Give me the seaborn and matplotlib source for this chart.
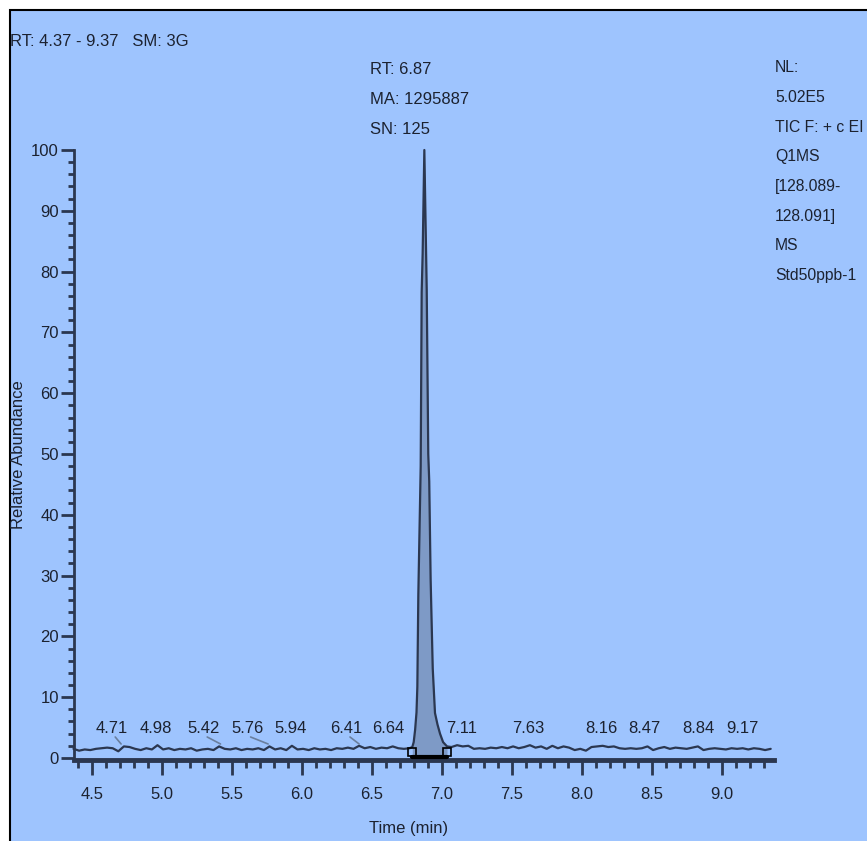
import numpy as np
import matplotlib
matplotlib.use("Agg")
import matplotlib.pyplot as plt
import seaborn as sns
from matplotlib import font_manager
from matplotlib.patches import Rectangle
from matplotlib.ticker import MultipleLocator

# ---------------- data ----------------
left_times = [4.37, 4.41, 4.45, 4.49, 4.53, 4.57, 4.61, 4.65, 4.69, 4.73, 4.77, 4.81, 4.85, 4.89,
              4.93, 4.97, 5.01, 5.05, 5.09, 5.13, 5.17, 5.21, 5.25, 5.29, 5.33, 5.37, 5.41, 5.45,
              5.49, 5.53, 5.57, 5.61, 5.65, 5.69, 5.73, 5.77, 5.81, 5.85, 5.89, 5.93, 5.97, 6.01,
              6.05, 6.09, 6.13, 6.17, 6.21, 6.25, 6.29, 6.33, 6.37, 6.41, 6.45, 6.49, 6.53, 6.57,
              6.61, 6.65, 6.69, 6.73, 6.77]
left_vals = [1.5, 1.2, 1.4, 1.3, 1.5, 1.6, 1.7, 1.6, 1.1, 1.9, 1.8, 1.5, 1.3, 1.6,
             1.4, 2.1, 1.4, 1.6, 1.3, 1.5, 1.4, 1.6, 1.2, 1.4, 1.5, 1.3, 1.9, 1.5,
             1.4, 1.6, 1.3, 1.5, 1.4, 1.6, 1.3, 1.9, 1.4, 1.6, 1.3, 2.0, 1.4, 1.5,
             1.3, 1.6, 1.4, 1.5, 1.3, 1.6, 1.5, 1.7, 1.5, 2.0, 1.6, 1.8, 1.5, 1.7,
             1.6, 1.9, 1.6, 1.5, 1.6]
peak_times = [6.790, 6.800, 6.810, 6.820, 6.826, 6.833, 6.850, 6.857, 6.864, 6.876,
              6.893, 6.904, 6.911, 6.921, 6.936, 6.952, 6.970, 6.988, 7.010, 7.038]
peak_vals = [1.8, 2.6, 4.6, 7.5, 11.7, 26.8, 48.0, 76.6, 83.0, 100.0,
             77.0, 50.0, 45.5, 29.3, 14.7, 7.4, 5.5, 4.0, 2.6, 1.9]
right_times = [7.07, 7.11, 7.15, 7.19, 7.23, 7.27, 7.31, 7.35, 7.39, 7.43, 7.47, 7.51, 7.55,
               7.59, 7.63, 7.67, 7.71, 7.75, 7.79, 7.83, 7.87, 7.91, 7.95, 7.99, 8.03, 8.07,
               8.11, 8.15, 8.19, 8.23, 8.27, 8.31, 8.35, 8.39, 8.43, 8.47, 8.51, 8.55, 8.59,
               8.63, 8.67, 8.71, 8.75, 8.79, 8.83, 8.87, 8.91, 8.95, 8.99, 9.03, 9.07, 9.11,
               9.15, 9.19, 9.23, 9.27, 9.31, 9.35]
right_vals = [1.8, 2.1, 1.9, 2.0, 1.5, 1.6, 1.5, 1.7, 1.6, 1.8, 1.6, 1.9, 1.6,
              1.8, 2.1, 1.7, 1.9, 1.5, 2.0, 1.6, 1.9, 1.7, 1.3, 1.5, 1.2, 1.8,
              1.9, 2.0, 1.8, 1.9, 1.6, 1.5, 1.6, 1.5, 1.6, 1.9, 1.3, 1.6, 1.8,
              1.5, 1.7, 1.6, 1.5, 1.7, 1.9, 1.3, 1.5, 1.6, 1.5, 1.4, 1.6, 1.5,
              1.6, 1.4, 1.6, 1.5, 1.3, 1.5]

peak_rt = 6.876
peak_start, peak_end = 6.790, 7.038
minor_peaks = ["4.71", "4.98", "5.42", "5.76", "5.94", "6.41", "6.64",
               "7.11", "7.63", "8.16", "8.47", "8.84", "9.17"]
minor_label_x = [4.643, 4.955, 5.30, 5.61, 5.92, 6.32, 6.62,
                 7.14, 7.62, 8.14, 8.45, 8.83, 9.15]
leaders = ["4.71", "5.42", "5.76", "6.41"]

header = "RT: 4.37 - 9.37   SM: 3G"
peak_info = ["RT: 6.87", "MA: 1295887", "SN: 125"]
right_info = ["NL:", "5.02E5", "TIC F: + c EI", "Q1MS", "[128.089-", "128.091]", "MS", "Std50ppb-1"]
x_ticks = [4.5, 5.0, 5.5, 6.0, 6.5, 7.0, 7.5, 8.0, 8.5, 9.0]
y_ticks = [0, 10, 20, 30, 40, 50, 60, 70, 80, 90, 100]

# ---------------- style ----------------
sns.set_theme(style="white")
names = {f.name for f in font_manager.fontManager.ttflist}
FONT = "Liberation Sans Narrow" if "Liberation Sans Narrow" in names else "Liberation Sans"
plt.rcParams["font.family"] = [FONT, "DejaVu Sans"]
NARROW = FONT == "Liberation Sans Narrow"
FS = 14.5 if NARROW else 12
FS_R = 14.5 if NARROW else 11.3

BG = "#9EC4FE"
LINE = "#2B3750"
FILL = "#7E9AC6"
TXT = "#1C2230"

W, H = 867, 841
fig = plt.figure(figsize=(W / 100, H / 100), dpi=100, facecolor="white")
fig.patches.append(Rectangle((10 / W, -0.01), 1.0, 1 - 10 / H + 0.01, transform=fig.transFigure,
                             facecolor=BG, edgecolor="black", linewidth=1.5, zorder=-10))

ax = fig.add_axes([73.5 / W, 1 - 760.4 / H, 700 / W, 610.4 / H])
ax.set_facecolor("none")

times = left_times + peak_times + right_times
vals = left_vals + peak_vals + right_vals

# peak area fill
ax.fill_between(peak_times, 0, peak_vals, color=FILL, zorder=2, linewidth=0)
sns.lineplot(x=times, y=vals, ax=ax, color=LINE, linewidth=1.6, estimator=None, sort=False,
             zorder=3)
for l in ax.lines:
    l.set_clip_on(False)

# integration baseline + markers
ax.plot([peak_start, peak_end], [0.1, 0.1], color="black", linewidth=3, zorder=4, clip_on=False)
ax.plot([peak_start, peak_end], [0.9, 0.9], linestyle="none", marker="s", markersize=6,
        markerfacecolor="none", markeredgecolor="black", markeredgewidth=1.2, zorder=4,
        clip_on=False)

# minor peak labels
for lab, lx in zip(minor_peaks, minor_label_x):
    ax.text(lx, 4.9, lab, ha="center", va="center", fontsize=FS, color=TXT, zorder=5)
    if lab in leaders:
        ax.plot([lx + 0.025, float(lab)], [3.45, 2.3], color="#6A7F9E", linewidth=1.2, zorder=3)

ax.set_xlim(4.37, 9.37)
ax.set_ylim(-0.4, 100)
ax.set_xticks(x_ticks)
ax.set_xticklabels([f"{v:.1f}" for v in x_ticks])
ax.set_yticks(y_ticks)
ax.set_yticklabels([str(v) for v in y_ticks])
ax.xaxis.set_minor_locator(MultipleLocator(0.1))
ax.yaxis.set_minor_locator(MultipleLocator(2))

for s in ["top", "right"]:
    ax.spines[s].set_visible(False)
ax.spines["left"].set_color(LINE)
ax.spines["left"].set_linewidth(2)
ax.spines["left"].set_bounds(-0.4, 100)
ax.spines["bottom"].set_color(LINE)
ax.spines["bottom"].set_linewidth(3.5)
ax.spines["bottom"].set_bounds(4.37, 9.37)

ax.tick_params(axis="y", which="major", direction="out", length=9.5, width=2, color=LINE,
               pad=1, labelsize=FS, labelcolor=TXT, left=True)
ax.tick_params(axis="y", which="minor", direction="out", length=4.5, width=2, color=LINE, left=True)
ax.tick_params(axis="x", which="major", direction="out", length=11, width=2, color=LINE,
               pad=8, labelsize=FS, labelcolor=TXT, bottom=True)
ax.tick_params(axis="x", which="minor", direction="out", length=6, width=2, color=LINE, bottom=True)

ax.set_xlabel("")
ax.set_ylabel("")

# axis titles
fig.text(19 / W, 1 - 455 / H, "Relative Abundance", rotation=90, ha="center", va="center",
         fontsize=FS, color=TXT)
fig.text(409 / W, 1 - 829 / H, "Time (min)", ha="center", va="center", fontsize=FS, color=TXT)

# header texts
fig.text(10 / W, 1 - 42 / H, header, ha="left", va="center", fontsize=FS, color=TXT)
for i, t in enumerate(peak_info):
    fig.text(370 / W, 1 - (70 + 30 * i) / H, t, ha="left", va="center", fontsize=FS, color=TXT)
for i, t in enumerate(right_info):
    fig.text(775 / W, 1 - (68 + 29.6 * i) / H, t, ha="left", va="center", fontsize=FS_R, color=TXT)

fig.savefig("out.png", dpi=100, facecolor="white")
